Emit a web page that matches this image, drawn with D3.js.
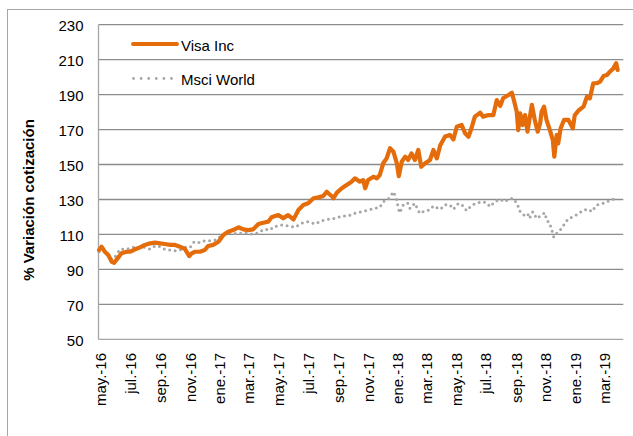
<!DOCTYPE html>
<html>
<head>
<meta charset="utf-8">
<script src="https://cdn.jsdelivr.net/npm/d3@7"></script>
<style>
html,body{margin:0;padding:0;background:#fff;}
svg{display:block;}
text{font-family:"Liberation Sans",Arial,sans-serif;fill:#000;}
</style>
</head>
<body>
<svg id="chart" width="633" height="436"></svg>
<script>
// ---- data ----
const visaDates = ["2016-04-28","2016-05-03","2016-05-10","2016-05-17","2016-05-24","2016-05-29","2016-06-05","2016-06-13","2016-06-24","2016-07-01","2016-07-11","2016-07-21","2016-07-31","2016-08-11","2016-08-21","2016-08-31","2016-09-10","2016-09-21","2016-10-01","2016-10-11","2016-10-21","2016-10-30","2016-11-04","2016-11-11","2016-11-21","2016-12-01","2016-12-08","2016-12-18","2016-12-29","2017-01-08","2017-01-18","2017-01-28","2017-02-08","2017-02-18","2017-02-28","2017-03-10","2017-03-21","2017-03-31","2017-04-10","2017-04-17","2017-04-24","2017-05-01","2017-05-11","2017-05-21","2017-06-01","2017-06-11","2017-06-21","2017-07-01","2017-07-12","2017-07-22","2017-08-01","2017-08-08","2017-08-18","2017-08-22","2017-08-29","2017-09-08","2017-09-18","2017-09-28","2017-10-05","2017-10-15","2017-10-22","2017-10-26","2017-11-01","2017-11-12","2017-11-19","2017-11-25","2017-12-02","2017-12-09","2017-12-16","2017-12-23","2017-12-30","2018-01-03","2018-01-09","2018-01-16","2018-01-22","2018-01-29","2018-02-05","2018-02-12","2018-02-18","2018-02-26","2018-03-08","2018-03-15","2018-03-22","2018-03-29","2018-04-08","2018-04-18","2018-04-25","2018-05-02","2018-05-12","2018-05-19","2018-05-26","2018-06-02","2018-06-08","2018-06-19","2018-06-25","2018-07-06","2018-07-16","2018-07-23","2018-07-30","2018-08-05","2018-08-16","2018-08-23","2018-08-27","2018-09-02","2018-09-05","2018-09-09","2018-09-14","2018-09-19","2018-09-24","2018-09-29","2018-10-03","2018-10-09","2018-10-15","2018-10-20","2018-10-23","2018-10-28","2018-11-02","2018-11-09","2018-11-15","2018-11-18","2018-11-23","2018-11-26","2018-12-01","2018-12-08","2018-12-17","2018-12-26","2018-12-30","2019-01-08","2019-01-17","2019-01-24","2019-01-30","2019-02-06","2019-02-13","2019-02-20","2019-02-27","2019-03-06","2019-03-12","2019-03-19","2019-03-25","2019-03-28"];
const visaValues = [101.1,103,100.1,98.2,94.4,93.8,96.3,99.2,100.1,100.1,101.5,102.6,104,104.9,105.3,104.9,104.5,104,104,103,101.7,97.6,99.2,100.1,100.1,101.1,103.4,104,105.8,109.7,111.6,112.5,114.1,112.9,112.5,112.9,116,116.7,117.3,119.8,120.5,121.1,119.2,121.1,118.6,124,126.8,127.8,130.7,131.2,132,134.4,132,130.7,133.9,136.4,138.3,140.2,142.1,140.2,141.1,136.4,141.1,143,142.1,144,150.7,153.5,159.3,157.3,150.7,143.4,151.6,154.5,152.6,156.4,152.6,158.3,148.7,150.7,152.6,158.3,153.5,161,166,166.9,164.4,171.6,172.6,167.9,165.9,171.6,177.4,179.6,177.4,178.3,178.3,186.9,183.5,187.9,189.8,191.1,186.9,180.2,169.7,179.3,172.6,178.3,168.8,177.4,184.1,175.5,168.8,173.6,180.2,183.1,175.5,169.7,164,154.5,166.9,162.1,170.7,175.5,175.5,170.7,178.3,181.2,183.1,188.8,187.9,196.5,196.5,197.4,200.6,201.2,203.1,205,207.9,204.1];

const msciDates = ["2016-04-28","2016-05-07","2016-05-17","2016-05-24","2016-05-31","2016-06-10","2016-06-20","2016-07-01","2016-07-11","2016-07-21","2016-07-31","2016-08-11","2016-08-21","2016-08-31","2016-09-10","2016-09-21","2016-10-01","2016-10-11","2016-10-21","2016-11-01","2016-11-09","2016-11-21","2016-12-01","2016-12-12","2016-12-22","2017-01-01","2017-01-11","2017-01-22","2017-02-01","2017-02-11","2017-02-21","2017-03-04","2017-03-14","2017-03-24","2017-04-03","2017-04-14","2017-04-21","2017-05-08","2017-05-21","2017-06-04","2017-06-18","2017-07-01","2017-07-15","2017-07-29","2017-08-11","2017-08-25","2017-09-08","2017-09-21","2017-10-05","2017-10-19","2017-11-01","2017-11-15","2017-11-25","2017-12-02","2017-12-14","2017-12-23","2017-12-30","2018-01-02","2018-01-05","2018-01-12","2018-01-21","2018-01-26","2018-02-05","2018-02-15","2018-02-26","2018-03-08","2018-03-15","2018-03-29","2018-04-08","2018-04-18","2018-04-25","2018-05-05","2018-05-15","2018-05-22","2018-06-02","2018-06-12","2018-06-22","2018-07-02","2018-07-09","2018-07-19","2018-07-30","2018-08-09","2018-08-16","2018-08-26","2018-09-03","2018-09-09","2018-09-16","2018-09-24","2018-09-28","2018-10-05","2018-10-13","2018-10-23","2018-10-30","2018-11-02","2018-11-08","2018-11-13","2018-11-17","2018-11-23","2018-11-30","2018-12-10","2018-12-17","2018-12-27","2019-01-06","2019-01-17","2019-01-27","2019-02-03","2019-02-13","2019-02-23","2019-03-06","2019-03-16","2019-03-23"];
const msciValues = [100.1,101.1,97.6,95.8,97.3,101.5,101.5,102.1,103,102.6,102.6,101.5,103.4,103,101.5,101.1,100.7,101.1,102.6,102.6,105.8,105.3,106.4,106.4,106.8,108.7,110.1,111,110.6,110.6,111,110.2,110.2,111.6,113,112.5,114.4,115.4,114.8,114.1,116.4,117.3,116,117.9,118.6,119.2,120.5,120.5,122.1,123,124,124.9,125.5,128.7,130.7,134.4,129.7,124.9,122.4,126.8,128.1,124.9,127.8,122.1,123.6,124,126.3,124.4,127,126.8,124.4,127.8,126.3,123.6,126.8,127.8,128.7,128.1,125.9,128.7,130.1,128.7,130.1,130.7,127.4,123,121.1,122.1,119.2,123,119.2,121.1,122.4,118.2,116.7,112.5,108.4,110.6,112.5,116.4,119.2,120.1,121.7,124,124.4,123,126.8,127.4,128.7,130.1,130.1];

const seriesNames = ["Visa Inc","Msci World"];
const yTicks = [50,70,90,110,130,150,170,190,210,230];
const xTickDates = ["2016-05-01","2016-07-01","2016-09-01","2016-11-01","2017-01-01","2017-03-01","2017-05-01","2017-07-01","2017-09-01","2017-11-01","2018-01-01","2018-03-01","2018-05-01","2018-07-01","2018-09-01","2018-11-01","2019-01-01","2019-03-01"];
const xTickLabels = ["may.-16","jul.-16","sep.-16","nov.-16","ene.-17","mar.-17","may.-17","jul.-17","sep.-17","nov.-17","ene.-18","mar.-18","may.-18","jul.-18","sep.-18","nov.-18","ene.-19","mar.-19"];
const yTitle = "% Variación  cotización";

// ---- drawing ----
const parse = d3.utcParse("%Y-%m-%d");
const svg = d3.select("#chart");
const L = 98.5, R = 623.3, T = 24.7, B = 339.3;

const x = d3.scaleUtc()
  .domain([Date.UTC(2016,3,26,21), Date.UTC(2019,3,8,14)])
  .range([L, R]);
const y = d3.scaleLinear().domain([50, 230]).range([B, T]);

// outer chart border
svg.append("rect").attr("x", 7.5).attr("y", 9.5).attr("width", 640).attr("height", 440)
  .attr("fill", "none").attr("stroke", "#a6a6a6").attr("stroke-width", 1);

// gridlines
svg.append("g").selectAll("line").data(yTicks.filter(v => v !== 50)).join("line")
  .attr("x1", L).attr("x2", R)
  .attr("y1", d => y(d)).attr("y2", d => y(d))
  .attr("stroke", "#8c8c8c").attr("stroke-width", 1.3);

// axes lines
svg.append("line").attr("x1", L).attr("x2", L).attr("y1", T).attr("y2", B)
  .attr("stroke", "#a6a6a6").attr("stroke-width", 1.3);
svg.append("line").attr("x1", L).attr("x2", R).attr("y1", B).attr("y2", B)
  .attr("stroke", "#a6a6a6").attr("stroke-width", 1.3);

// y tick labels
svg.append("g").selectAll("text").data(yTicks).join("text")
  .attr("x", 83.5).attr("y", d => y(d) + 6.5)
  .attr("text-anchor", "end").attr("font-size", 15)
  .text(d => d);

// x tick labels
svg.append("g").selectAll("text").data(xTickDates).join("text")
  .attr("transform", d => `translate(${x(parse(d))},353) rotate(-90)`)
  .attr("text-anchor", "end").attr("dy", "0.36em").attr("font-size", 15)
  .text((d, i) => xTickLabels[i]);

// y title
svg.append("text")
  .attr("transform", "translate(28.5,200) rotate(-90)")
  .attr("text-anchor", "middle").attr("dy", "0.36em")
  .attr("font-size", 15).attr("font-weight", "bold")
  .text(yTitle);

const line = d3.line().x(d => x(d[0])).y(d => y(d[1]));

const msci = msciDates.map((d, i) => [parse(d), msciValues[i]]);
const visa = visaDates.map((d, i) => [parse(d), visaValues[i]]);

svg.append("path").datum(msci).attr("d", line)
  .attr("fill", "none").attr("stroke", "#a6a6a6").attr("stroke-width", 3)
  .attr("stroke-linecap", "round").attr("stroke-dasharray", "0 5.5");

svg.append("path").datum(visa).attr("d", line)
  .attr("fill", "none").attr("stroke", "#e46c0a").attr("stroke-width", 4.2)
  .attr("stroke-linejoin", "round").attr("stroke-linecap", "round");

// legend
const lg = svg.append("g");
lg.append("line").attr("x1", 133).attr("x2", 177).attr("y1", 44).attr("y2", 44)
  .attr("stroke", "#e46c0a").attr("stroke-width", 3.9).attr("stroke-linecap", "round");
lg.append("text").attr("x", 181).attr("y", 50.5).attr("font-size", 15).text(seriesNames[0]);
lg.append("line").attr("x1", 133.5).attr("x2", 172).attr("y1", 78.5).attr("y2", 78.5)
  .attr("stroke", "#a6a6a6").attr("stroke-width", 2.8)
  .attr("stroke-linecap", "round").attr("stroke-dasharray", "0 7.6");
lg.append("text").attr("x", 181).attr("y", 84.5).attr("font-size", 15).text(seriesNames[1]);
</script>
</body>
</html>
